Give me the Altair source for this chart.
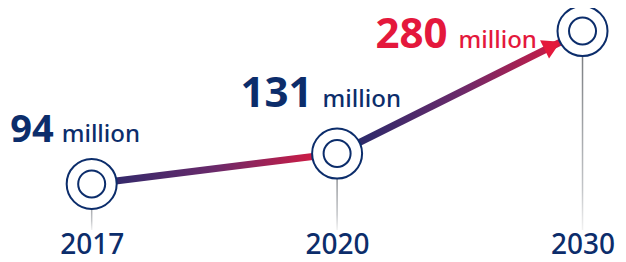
import altair as alt
import pandas as pd
import json

# ---- data ----
years = ["2017", "2020", "2030"]
values = [94, 131, 280]
numbers = ["94", "131", "280"]
units = ["million", "million", "million"]

df = pd.DataFrame({"year": years, "value": values, "num": numbers, "unit": units})

# ---- styles ----
NAVY = "#0c2d6b"
RED = "#e4183c"
FONT = "Noto Sans"

label_expr = json.dumps(years) + "[datum.value - 1]"

x_enc = alt.X(
    "idx:Q",
    scale=alt.Scale(domain=[0.6794, 3.1242], nice=False, zero=False),
    axis=alt.Axis(
        title=None, values=[1, 2, 3], labelExpr=label_expr, labelAngle=0,
        labelFontSize=28, labelFontWeight=500, labelColor=NAVY, labelFont=FONT, labelFlush=False,
        domain=False, ticks=False, tickSize=0, labelPadding=1, grid=False,
    ),
)
y_enc = alt.Y("value:Q", scale=alt.Scale(domain=[38, 308], nice=False, zero=False), axis=None)

base = alt.Chart(df).transform_window(idx="row_number()").encode(x=x_enc, y=y_enc)

gray_grad = alt.LinearGradient(
    gradient="linear",
    stops=[
        alt.GradientStop(color="#6e7175", offset=0),
        alt.GradientStop(color="#c4c6c9", offset=0.8),
        alt.GradientStop(color="#f2f2f2", offset=1),
    ],
    x1=0, x2=0, y1=0, y2=1,
)
stems = base.mark_bar(size=1.5, fill=gray_grad).encode(y2=alt.Y2(datum=38))


def seg_grad(c0, c1):
    return alt.LinearGradient(
        gradient="linear",
        stops=[
            alt.GradientStop(color=c0, offset=0),
            alt.GradientStop(color="#6a2a6a", offset=0.5),
            alt.GradientStop(color=c1, offset=1),
        ],
        x1=0, x2=1, y1=0, y2=0,
    )


seg1 = base.transform_filter(alt.FieldOneOfPredicate(field="year", oneOf=["2017", "2020"])).mark_line(
    strokeWidth=7, stroke=seg_grad("#27296b", RED)
)
seg2 = base.transform_filter(alt.FieldOneOfPredicate(field="year", oneOf=["2020", "2030"])).mark_line(
    strokeWidth=7, stroke=seg_grad("#1f2a6b", RED)
)

arrow = base.transform_filter(alt.datum.year == "2030").mark_point(
    shape="triangle-right", filled=True, fill=RED, opacity=1, size=420,
    angle=334, xOffset=-30, yOffset=14.5, strokeWidth=0,
)

outer = base.mark_circle(size=2500, fill="white", stroke=NAVY, strokeWidth=2, opacity=1)
inner = base.mark_point(size=729, shape="circle", filled=False, stroke=NAVY, strokeWidth=2, opacity=1)

layout = {
    "2017": dict(dxn=-38, dxu=-30, dy=-42, size=38, color=NAVY),
    "2020": dict(dxn=-24.5, dxu=-14.5, dy=-47, size=42, color=NAVY),
    "2030": dict(dxn=-135, dxu=-124, dy=17, size=42, color=RED),
}

texts = []
for yr in years:
    L = layout[yr]
    sub = base.transform_filter(alt.datum.year == yr)
    texts.append(sub.mark_text(
        align="right", baseline="alphabetic", dx=L["dxn"], dy=L["dy"],
        fontSize=L["size"], fontWeight="bold", font=FONT, color=L["color"],
    ).encode(text="num:N"))
    texts.append(sub.mark_text(
        align="left", baseline="alphabetic", dx=L["dxu"], dy=L["dy"],
        fontSize=24, fontWeight=500, font=FONT, color=L["color"],
    ).encode(text="unit:N"))

chart = alt.layer(stems, seg1, seg2, arrow, outer, inner, *texts).properties(
    width=610, height=222,
    autosize=alt.AutoSizeParams(type="none"),
    padding={"left": 0, "top": 0, "right": 0, "bottom": 32},
    background="white",
).configure_view(stroke=None)

chart.save("out.html", embed_options={"renderer": "svg", "actions": False})
